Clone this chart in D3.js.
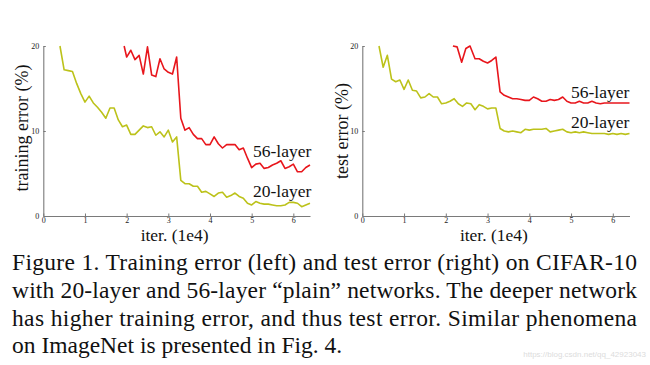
<!DOCTYPE html>
<html><head><meta charset="utf-8">
<script src="https://cdn.jsdelivr.net/npm/d3@7"></script>
<style>html,body{margin:0;padding:0;background:#fff;}svg{display:block;}</style>
</head><body>
<svg id="c" width="650" height="365"></svg>
<script>
// ---- data ----
const xTicks = [0, 1, 2, 3, 4, 5, 6];
const yTicks = [0, 10, 20];

const trainIter20 = [0.4,0.5,0.6,0.7,0.8,0.9,1.0,1.1,1.2,1.3,1.4,1.5,1.6,1.7,1.8,1.9,2.0,2.1,2.2,2.3,2.4,2.5,2.6,2.7,2.8,2.9,3.0,3.1,3.2,3.3,3.4,3.5,3.6,3.7,3.8,3.9,4.0,4.1,4.2,4.3,4.4,4.5,4.6,4.7,4.8,4.9,5.0,5.1,5.2,5.3,5.4,5.5,5.6,5.7,5.8,5.9,6.0,6.1,6.2,6.3,6.4];
const trainErr20 = [20.0,17.2,17.1,17.0,15.6,14.4,13.4,14.1,13.3,12.8,12.2,11.5,12.7,12.7,11.3,10.5,10.7,9.6,9.6,10.1,10.6,10.4,10.5,9.5,9.9,9.3,10.1,8.7,9.3,4.2,3.8,3.8,3.5,3.5,2.8,2.9,2.6,2.3,2.7,2.8,2.2,2.4,2.7,2.3,2.1,1.5,1.3,1.7,1.5,1.4,1.4,1.3,1.2,1.2,1.3,1.6,1.6,1.5,1.1,1.3,1.5];

const trainIter56 = [1.94,2.0,2.1,2.2,2.3,2.4,2.5,2.6,2.7,2.8,2.9,3.0,3.1,3.2,3.3,3.4,3.5,3.6,3.7,3.8,3.9,4.0,4.1,4.2,4.3,4.4,4.5,4.6,4.7,4.8,4.9,5.0,5.1,5.2,5.3,5.4,5.5,5.6,5.7,5.8,5.9,6.0,6.1,6.2,6.3,6.4];
const trainErr56 = [20.0,18.7,19.5,18.4,18.9,16.7,19.9,16.6,16.4,18.5,17.3,16.9,16.7,18.7,11.5,10.1,10.4,9.6,9.1,9.1,8.4,8.4,9.3,8.5,8.0,8.4,8.4,8.4,7.8,8.0,6.8,5.7,6.1,6.2,5.6,5.7,6.0,6.2,6.5,5.6,5.8,6.1,5.2,5.2,5.7,6.0];

const testIter20 = trainIter20;
const testErr20 = [20.0,17.5,18.9,16.1,15.8,16.0,14.9,16.0,14.8,14.7,13.9,14.0,14.4,14.0,14.0,13.2,13.3,13.5,13.8,13.2,12.9,13.3,13.2,12.5,13.1,12.9,12.6,12.7,12.7,10.3,10.0,9.9,10.0,9.9,9.8,10.2,10.1,10.2,10.2,10.2,10.3,9.9,10.0,10.1,10.2,9.9,9.8,9.9,9.8,9.9,9.8,9.7,9.7,9.7,9.7,9.6,9.7,9.6,9.7,9.6,9.7];

const testIter56 = [2.17,2.27,2.38,2.48,2.58,2.7,2.8,2.9,3.0,3.1,3.2,3.3,3.4,3.5,3.6,3.7,3.8,3.9,4.0,4.1,4.2,4.3,4.4,4.5,4.6,4.7,4.8,4.9,5.0,5.1,5.2,5.3,5.4,5.5,5.6,5.7,5.8,5.9,6.0,6.1,6.2,6.3,6.4];
const testErr56 = [20.0,19.9,18.1,19.7,20.0,18.5,18.5,18.2,18.0,18.3,18.7,14.6,14.2,14.0,13.8,13.8,13.7,13.6,13.6,14.0,13.8,13.5,13.5,13.7,13.6,13.7,14.0,13.5,13.3,13.3,13.5,13.3,13.3,13.5,13.3,13.2,13.3,13.3,13.3,13.3,13.3,13.3,13.3];

const seriesNames = ["56-layer", "20-layer"];
const captionLines = [
  "Figure 1. Training error (left) and test error (right) on CIFAR-10",
  "with 20-layer and 56-layer \u201cplain\u201d networks. The deeper network",
  "has higher training error, and thus test error.  Similar phenomena",
  "on ImageNet is presented in Fig. 4."
];
const watermark = "https://blog.csdn.net/qq_42923043";

// ---- drawing ----
const svg = d3.select("#c");
const serif = "'Liberation Serif','Times New Roman',serif";
const RED = "#e8161c", YEL = "#bcc21a";

function panel(opt) {
  const x = d3.scaleLinear().domain([0, 6.4]).range([opt.x0, opt.x1]);
  const y = d3.scaleLinear().domain([0, 20]).range([216, 46]);
  const g = svg.append("g");

  const ax = g.append("g").attr("transform", "translate(0,216)")
    .call(d3.axisBottom(x).tickValues(xTicks).tickFormat(d3.format("d")).tickSizeInner(-2.5).tickSizeOuter(0).tickPadding(1.5));
  const ay = g.append("g").attr("transform", `translate(${opt.x0},0)`)
    .call(d3.axisLeft(y).tickValues(yTicks).tickFormat(d3.format("d")).tickSizeInner(-2.5).tickSizeOuter(0).tickPadding(4));
  [ax, ay].forEach(a => {
    a.select(".domain").attr("stroke", "#7a7a7a").attr("stroke-width", 1.1);
    a.selectAll(".tick line").attr("stroke", "#7a7a7a");
    a.selectAll(".tick text").attr("font-family", serif).attr("font-size", 8).attr("fill", "#222");
  });

  const line = d3.line().x(d => x(d[0])).y(d => y(d[1]));
  g.append("path").datum(d3.zip(opt.i20, opt.e20)).attr("d", line)
    .attr("fill", "none").attr("stroke", YEL).attr("stroke-width", 1.6).attr("stroke-linejoin", "round");
  g.append("path").datum(d3.zip(opt.i56, opt.e56)).attr("d", line)
    .attr("fill", "none").attr("stroke", RED).attr("stroke-width", 1.6).attr("stroke-linejoin", "round");

  g.append("text").attr("x", opt.lx).attr("y", opt.l56).text(seriesNames[0])
    .attr("font-family", serif).attr("font-size", 17.5).attr("fill", "#111");
  g.append("text").attr("x", opt.lx).attr("y", opt.l20).text(seriesNames[1])
    .attr("font-family", serif).attr("font-size", 17.5).attr("fill", "#111");

  g.append("text").attr("x", (opt.x0 + opt.x1) / 2 - 2).attr("y", 240.5).attr("text-anchor", "middle")
    .text("iter. (1e4)").attr("font-family", serif).attr("font-size", 17.5).attr("fill", "#111");
  g.append("text").attr("transform", `translate(${opt.yl},${opt.ylc}) rotate(-90)`).attr("text-anchor", "middle")
    .text(opt.ylabel).attr("font-family", serif).attr("font-size", 18).attr("fill", "#111");
}

panel({x0: 43.3, x1: 310, i20: trainIter20, e20: trainErr20, i56: trainIter56, e56: trainErr56,
  lx: 253, l56: 157, l20: 197, yl: 28, ylc: 128, ylabel: "training error (%)"});
panel({x0: 362.3, x1: 629.5, i20: testIter20, e20: testErr20, i56: testIter56, e56: testErr56,
  lx: 571, l56: 98, l20: 128, yl: 348, ylc: 131, ylabel: "test error (%)"});

const baselines = [270, 298, 325.5, 353];
captionLines.forEach((t, i) => {
  const tx = svg.append("text").attr("x", 12).attr("y", baselines[i]).text(t)
    .attr("font-family", serif).attr("font-size", 23.5).attr("fill", "#111");
  if (i < 3) tx.attr("textLength", 625).attr("lengthAdjust", "spacing");
});
svg.append("text").attr("x", 646).attr("y", 357).attr("text-anchor", "end").text(watermark)
  .attr("font-family", "'Liberation Sans',sans-serif").attr("font-size", 8).attr("fill", "#dcdcdc");
</script>
</body></html>
